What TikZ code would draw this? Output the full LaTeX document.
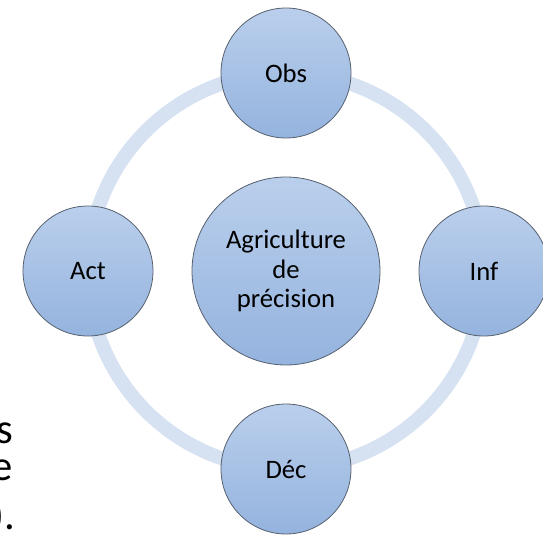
\documentclass[tikz,border=0pt]{standalone}
\usepackage{fontspec}
\setmainfont{Carlito}
\usepackage{tikz}
\usetikzlibrary{positioning}
\definecolor{ringblue}{RGB}{214,225,241}
\definecolor{circtop}{RGB}{186,207,236}
\definecolor{circbottom}{RGB}{148,179,222}
\definecolor{circline}{RGB}{85,95,110}

\begin{document}
\begin{tikzpicture}[phase/.style={circle, 
      draw=circline, 
      line width=0.6pt, 
      top color=circtop, 
      bottom color=circbottom, 
      minimum size=#1, 
      inner sep=0pt, 
      outer sep=0pt, 
      align=center, 
      font=\fontsize{20}{22}\selectfont}, 
    fragment/.style={inner sep=0pt, 
      anchor=base east, 
      font=\fontsize{32}{38}\selectfont}, 
    node distance=29.25pt]

  \useasboundingbox (-214.5pt,-198.75pt) rectangle (192.75pt,203.25pt);

  % RING
  \draw[ringblue, line width=10.5pt] (0,0) circle (148.5pt);

  \node[phase=141pt] (agri) at (0,0) {Agriculture\\de\\précision};

  \node[phase=97.5pt, above=of agri] (obs) {Obs};
  \node[phase=97.5pt, right=of agri] (inf) {Inf};
  \node[phase=97.5pt, below=of agri] (dec) {Déc};
  \node[phase=97.5pt, left=of agri] (act) {Act};

  % CUT TEXT ON THE LEFT

  \node[fragment] (fragone) at (-204.75pt,-129pt) {s};
  \node[fragment] (fragtwo) at (-204.75pt,-156.75pt) {e};
  \node[fragment] (fragthree) at (-203pt,-194pt) {).};

\end{tikzpicture}
\end{document}
